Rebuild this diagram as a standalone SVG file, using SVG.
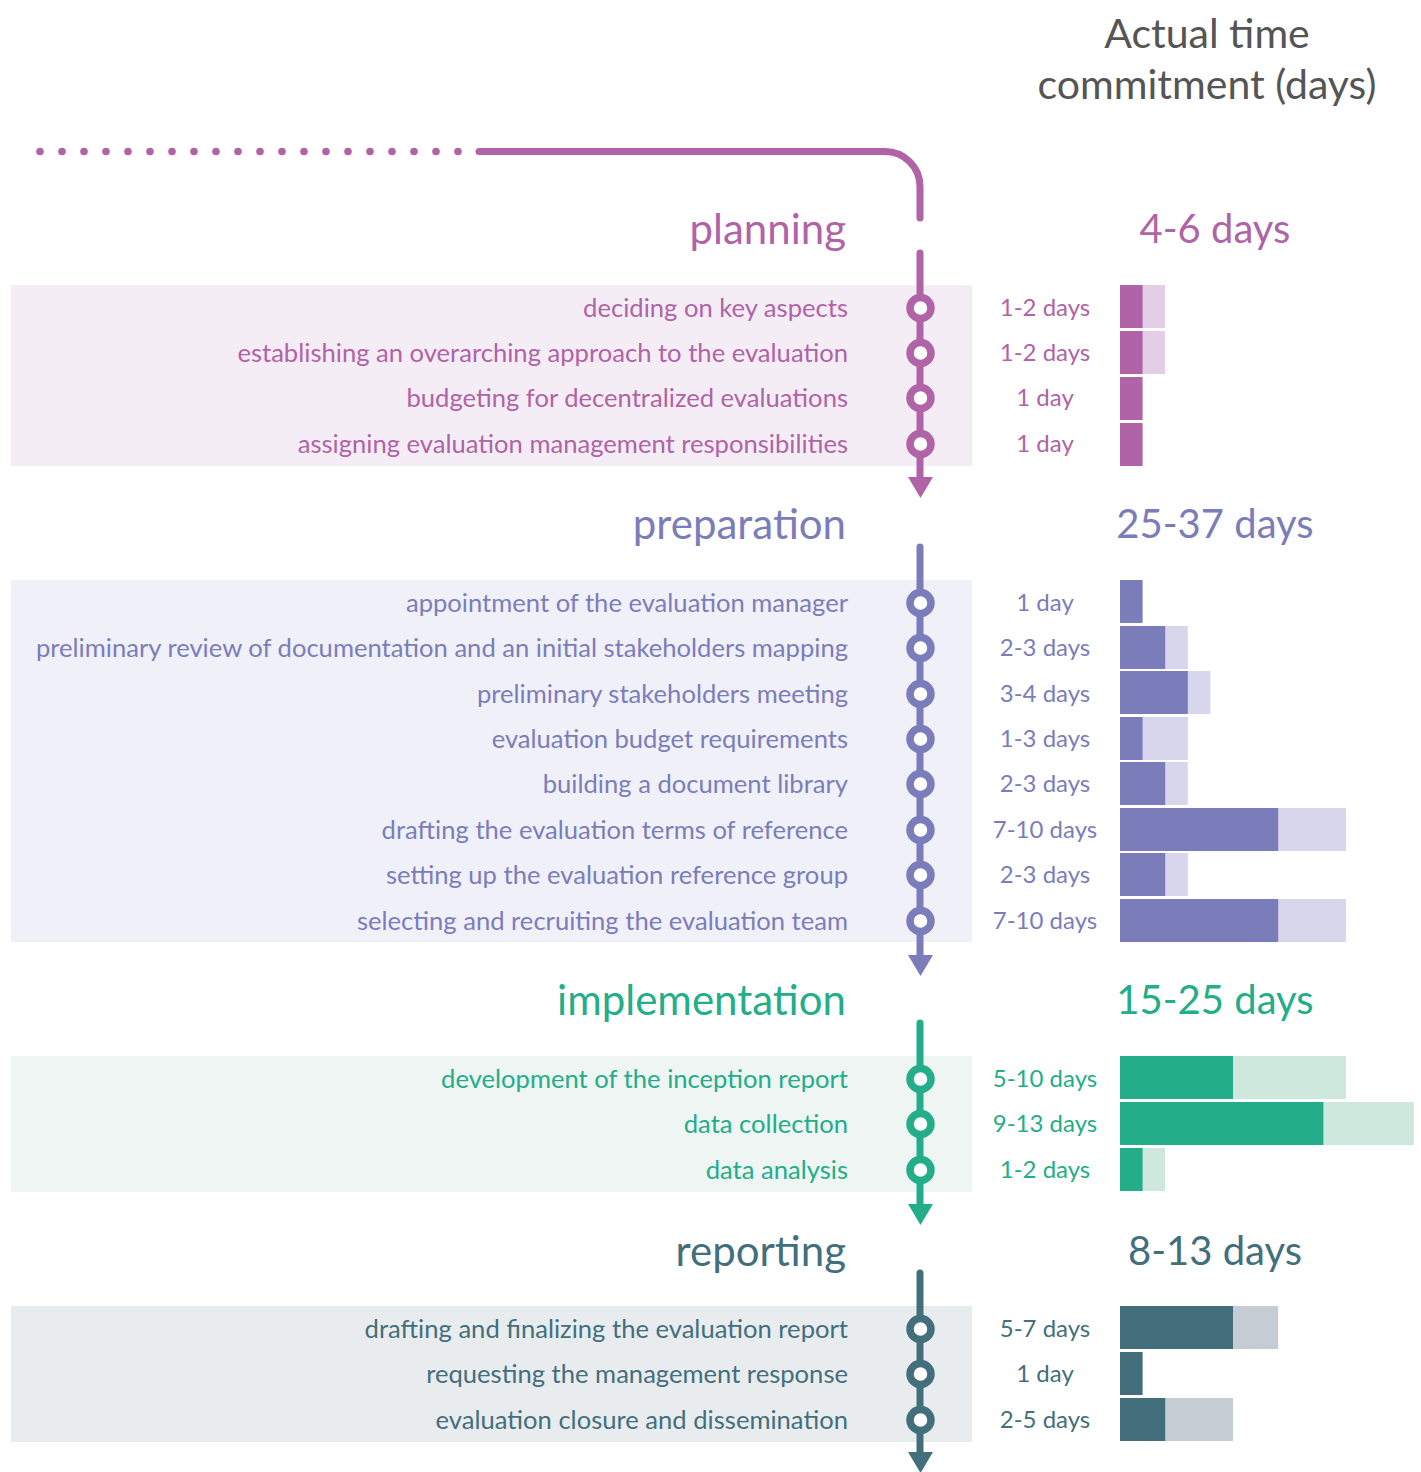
<svg xmlns="http://www.w3.org/2000/svg" width="1421" height="1472" viewBox="0 0 1421 1472">
<style>
text{font-family:Lato,"Liberation Sans",sans-serif}
.t{font-size:41px;fill:#555;text-anchor:middle}
.h{font-size:42px;text-anchor:end}
.hd{font-size:40px;text-anchor:middle}
.l{font-size:25.6px;text-anchor:end}
.d{font-size:24px;text-anchor:middle}
.pl{fill:#b063a6}.pr{fill:#7b7dbb}.im{fill:#23ad89}.re{fill:#436f7c}
.plb{fill:#f5edf6}.prb{fill:#f0f0f9}.imb{fill:#eef5f3}.reb{fill:#e9ecef}
.pll{fill:#e2cfe6}.prl{fill:#d8d6ec}.iml{fill:#cfe8de}.rel{fill:#c5ccd3}
.ln{stroke-width:7;stroke-linecap:round;fill:none}
.c{fill:#fff;stroke-width:7.5}
</style>
<text class="t" x="1207" y="48">Actual time</text>
<text class="t" x="1207" y="99">commitment (days)</text>
<g id="bands">
<rect class="plb" x="11" y="285" width="961" height="181"/>
<rect class="prb" x="11" y="580" width="961" height="362"/>
<rect class="imb" x="11" y="1056" width="961" height="136"/>
<rect class="reb" x="11" y="1306" width="961" height="136"/>
</g>
<g id="connectors">
<g fill="#b063a6">
<circle cx="40" cy="151.5" r="3.8"/><circle cx="62" cy="151.5" r="3.8"/><circle cx="84" cy="151.5" r="3.8"/><circle cx="106" cy="151.5" r="3.8"/><circle cx="128" cy="151.5" r="3.8"/><circle cx="150" cy="151.5" r="3.8"/><circle cx="172" cy="151.5" r="3.8"/><circle cx="194" cy="151.5" r="3.8"/><circle cx="216" cy="151.5" r="3.8"/><circle cx="238" cy="151.5" r="3.8"/><circle cx="260" cy="151.5" r="3.8"/><circle cx="282" cy="151.5" r="3.8"/><circle cx="304" cy="151.5" r="3.8"/><circle cx="326" cy="151.5" r="3.8"/><circle cx="348" cy="151.5" r="3.8"/><circle cx="370" cy="151.5" r="3.8"/><circle cx="392" cy="151.5" r="3.8"/><circle cx="414" cy="151.5" r="3.8"/><circle cx="436" cy="151.5" r="3.8"/><circle cx="458" cy="151.5" r="3.8"/>
</g>
<path class="ln" stroke="#b063a6" d="M479 151.5 H885 A35 35 0 0 1 920 186.5 V218"/>
<path class="ln" stroke="#b063a6" d="M920 253 V478"/>
<polygon fill="#b063a6" points="908,477 933,477 920.5,498"/>
<path class="ln" stroke="#7b7dbb" d="M920 547 V956"/>
<polygon fill="#7b7dbb" points="908,955 933,955 920.5,976"/>
<path class="ln" stroke="#23ad89" d="M920 1023 V1205"/>
<polygon fill="#23ad89" points="908,1204 933,1204 920.5,1225"/>
<path class="ln" stroke="#436f7c" d="M920 1273 V1453"/>
<polygon fill="#436f7c" points="908,1452 933,1452 920.5,1473"/>
</g>
<g id="planning">
<text class="h pl" x="846" y="244">planning</text>
<text class="hd pl" x="1215" y="243">4-6 days</text>
<g id="pl1"><text class="l pl" x="848" y="317">deciding on key aspects</text><circle class="c" stroke="#b063a6" cx="920.5" cy="308" r="10.5"/><text class="d pl" x="1045" y="316">1-2 days</text><rect class="pll" x="1120" y="285" width="45" height="43"/><rect class="pl" x="1120" y="285" width="22.6" height="43"/></g>
<g id="pl2"><text class="l pl" x="848" y="362">establishing an overarching approach to the evaluation</text><circle class="c" stroke="#b063a6" cx="920.5" cy="353" r="10.5"/><text class="d pl" x="1045" y="361">1-2 days</text><rect class="pll" x="1120" y="331" width="45" height="43"/><rect class="pl" x="1120" y="331" width="22.6" height="43"/></g>
<g id="pl3"><text class="l pl" x="848" y="407">budgeting for decentralized evaluations</text><circle class="c" stroke="#b063a6" cx="920.5" cy="398" r="10.5"/><text class="d pl" x="1045" y="406">1 day</text><rect class="pl" x="1120" y="377" width="22.6" height="43"/></g>
<g id="pl4"><text class="l pl" x="848" y="453">assigning evaluation management responsibilities</text><circle class="c" stroke="#b063a6" cx="920.5" cy="444" r="10.5"/><text class="d pl" x="1045" y="452">1 day</text><rect class="pl" x="1120" y="423" width="22.6" height="43"/></g>
</g>
<g id="preparation">
<text class="h pr" x="846" y="539">preparation</text>
<text class="hd pr" x="1215" y="538">25-37 days</text>
<g id="pr1"><text class="l pr" x="848" y="612">appointment of the evaluation manager</text><circle class="c" stroke="#7b7dbb" cx="920.5" cy="603" r="10.5"/><text class="d pr" x="1045" y="611">1 day</text><rect class="pr" x="1120" y="580" width="22.6" height="43"/></g>
<g id="pr2"><text class="l pr" x="848" y="657">preliminary review of documentation and an initial stakeholders mapping</text><circle class="c" stroke="#7b7dbb" cx="920.5" cy="648" r="10.5"/><text class="d pr" x="1045" y="656">2-3 days</text><rect class="prl" x="1120" y="626" width="67.8" height="43"/><rect class="pr" x="1120" y="626" width="45.2" height="43"/></g>
<g id="pr3"><text class="l pr" x="848" y="703">preliminary stakeholders meeting</text><circle class="c" stroke="#7b7dbb" cx="920.5" cy="694" r="10.5"/><text class="d pr" x="1045" y="702">3-4 days</text><rect class="prl" x="1120" y="671" width="90.4" height="43"/><rect class="pr" x="1120" y="671" width="67.8" height="43"/></g>
<g id="pr4"><text class="l pr" x="848" y="748">evaluation budget requirements</text><circle class="c" stroke="#7b7dbb" cx="920.5" cy="739" r="10.5"/><text class="d pr" x="1045" y="747">1-3 days</text><rect class="prl" x="1120" y="717" width="67.8" height="43"/><rect class="pr" x="1120" y="717" width="22.6" height="43"/></g>
<g id="pr5"><text class="l pr" x="848" y="793">building a document library</text><circle class="c" stroke="#7b7dbb" cx="920.5" cy="784" r="10.5"/><text class="d pr" x="1045" y="792">2-3 days</text><rect class="prl" x="1120" y="762" width="67.8" height="43"/><rect class="pr" x="1120" y="762" width="45.2" height="43"/></g>
<g id="pr6"><text class="l pr" x="848" y="839">drafting the evaluation terms of reference</text><circle class="c" stroke="#7b7dbb" cx="920.5" cy="830" r="10.5"/><text class="d pr" x="1045" y="838">7-10 days</text><rect class="prl" x="1120" y="808" width="226" height="43"/><rect class="pr" x="1120" y="808" width="158.2" height="43"/></g>
<g id="pr7"><text class="l pr" x="848" y="884">setting up the evaluation reference group</text><circle class="c" stroke="#7b7dbb" cx="920.5" cy="875" r="10.5"/><text class="d pr" x="1045" y="883">2-3 days</text><rect class="prl" x="1120" y="853" width="67.8" height="43"/><rect class="pr" x="1120" y="853" width="45.2" height="43"/></g>
<g id="pr8"><text class="l pr" x="848" y="930">selecting and recruiting the evaluation team</text><circle class="c" stroke="#7b7dbb" cx="920.5" cy="921" r="10.5"/><text class="d pr" x="1045" y="929">7-10 days</text><rect class="prl" x="1120" y="899" width="226" height="43"/><rect class="pr" x="1120" y="899" width="158.2" height="43"/></g>
</g>
<g id="implementation">
<text class="h im" x="846" y="1015">implementation</text>
<text class="hd im" x="1215" y="1014">15-25 days</text>
<g id="im1"><text class="l im" x="848" y="1088">development of the inception report</text><circle class="c" stroke="#23ad89" cx="920.5" cy="1079" r="10.5"/><text class="d im" x="1045" y="1087">5-10 days</text><rect class="iml" x="1120" y="1056" width="226" height="43"/><rect class="im" x="1120" y="1056" width="113" height="43"/></g>
<g id="im2"><text class="l im" x="848" y="1133">data collection</text><circle class="c" stroke="#23ad89" cx="920.5" cy="1124" r="10.5"/><text class="d im" x="1045" y="1132">9-13 days</text><rect class="iml" x="1120" y="1102" width="293.8" height="43"/><rect class="im" x="1120" y="1102" width="203.4" height="43"/></g>
<g id="im3"><text class="l im" x="848" y="1179">data analysis</text><circle class="c" stroke="#23ad89" cx="920.5" cy="1170" r="10.5"/><text class="d im" x="1045" y="1178">1-2 days</text><rect class="iml" x="1120" y="1148" width="45.2" height="43"/><rect class="im" x="1120" y="1148" width="22.6" height="43"/></g>
</g>
<g id="reporting">
<text class="h re" x="846" y="1266">reporting</text>
<text class="hd re" x="1215" y="1265">8-13 days</text>
<g id="re1"><text class="l re" x="848" y="1338">drafting and finalizing the evaluation report</text><circle class="c" stroke="#436f7c" cx="920.5" cy="1329" r="10.5"/><text class="d re" x="1045" y="1337">5-7 days</text><rect class="rel" x="1120" y="1306" width="158.2" height="43"/><rect class="re" x="1120" y="1306" width="113" height="43"/></g>
<g id="re2"><text class="l re" x="848" y="1383">requesting the management response</text><circle class="c" stroke="#436f7c" cx="920.5" cy="1374" r="10.5"/><text class="d re" x="1045" y="1382">1 day</text><rect class="re" x="1120" y="1352" width="22.6" height="43"/></g>
<g id="re3"><text class="l re" x="848" y="1429">evaluation closure and dissemination</text><circle class="c" stroke="#436f7c" cx="920.5" cy="1420" r="10.5"/><text class="d re" x="1045" y="1428">2-5 days</text><rect class="rel" x="1120" y="1398" width="113" height="43"/><rect class="re" x="1120" y="1398" width="45.2" height="43"/></g>
</g>
</svg>
